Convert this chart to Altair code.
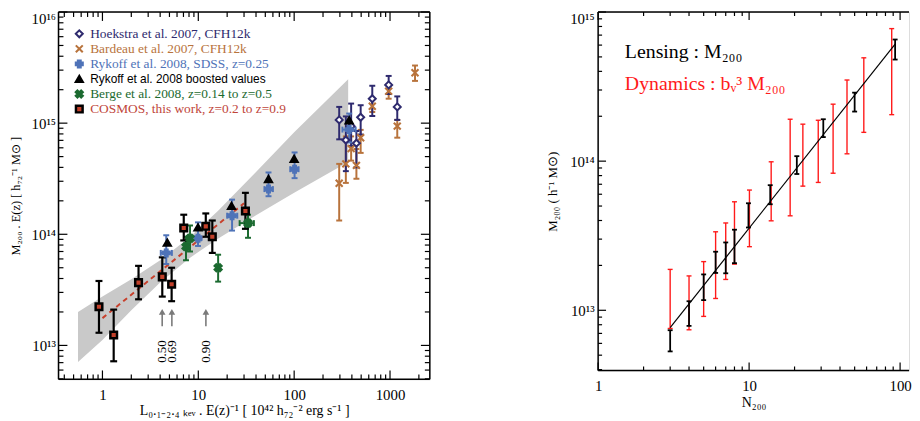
import altair as alt
import pandas as pd

SERIF = "Liberation Serif"
SANS = "Liberation Sans"

# ---------------- left panel values ----------------
series_names = [
    "Hoekstra et al. 2007, CFH12k",
    "Bardeau et al. 2007, CFH12k",
    "Rykoff et al. 2008, SDSS, z=0.25",
    "Rykoff et al. 2008 boosted values",
    "Berge et al. 2008, z=0.14 to z=0.5",
    "COSMOS, this work, z=0.2 to z=0.9",
]
series_colors = ["#2e2a6e", "#b8733c", "#4f73b8", "#000000", "#1b6a30", "#c2402a"]
label_colors = ["#2e2a6e", "#b8733c", "#4f73b8", "#000000", "#1b6a30", "#c0453a"]

cos_L = [0.92, 1.31, 2.38, 4.21, 5.27, 7.05, 11.97, 14.0, 31.0]
cos_M = [2.23e13, 1.24e13, 3.67e13, 4.14e13, 3.55e13, 1.14e14, 1.18e14, 9.5e13, 1.62e14]
cos_lo = [1.3e13, 7.2e12, 2.6e13, 2.75e13, 2.5e13, 8.8e13, 9.5e13, 6.8e13, 1.12e14]
cos_hi = [3.8e13, 2.1e13, 5.2e13, 6.2e13, 5.0e13, 1.5e14, 1.54e14, 1.33e14, 2.36e14]

sdss_L = [4.63, 9.93, 22.5, 54.0, 101.0, 375.0]
sdss_M = [6.8e13, 9.2e13, 1.47e14, 2.55e14, 3.85e14, 8.75e14]
sdss_lo = [5.4e13, 7.85e13, 1.08e14, 2.2e14, 3.2e14, 6.7e14]
sdss_hi = [9.8e13, 1.28e14, 2.05e14, 3.6e14, 5.45e14, 1.22e15]
sdss_Llo = [4.06, 9.2, 20.0, 49.0, 91.0, 319.0]
sdss_Lhi = [5.3, 10.7, 25.5, 60.0, 111.0, 438.0]

boost_L = [4.75, 9.93, 22.2, 54.0, 100.0, 375.0]
boost_M = [8.4e13, 1.15e14, 1.8e14, 3.14e14, 4.77e14, 1.06e15]

hoek_L = [295.0, 346.0, 393.0, 446.0, 494.0, 653.0, 968.0, 1190.0]
hoek_M = [1.07e15, 7.05e14, 9.4e14, 6.6e14, 1.13e15, 1.66e15, 2.21e15, 1.4e15]
hoek_lo = [7.15e14, 3.7e14, 6.25e14, 4.0e14, 7.9e14, 1.16e15, 1.83e15, 1.07e15]
hoek_hi = [1.4e15, 1.15e15, 1.5e15, 8.5e14, 1.45e15, 2.17e15, 2.66e15, 1.74e15]

bard_L = [295.0, 346.0, 393.0, 446.0, 494.0, 653.0, 968.0, 1190.0, 1823.0]
bard_M = [2.88e14, 4.3e14, 5.9e14, 4.17e14, 7.4e14, 1.42e15, 1.94e15, 9.4e14, 2.84e15]
bard_lo = [1.33e14, 2.9e14, 4.6e14, 3.16e14, 5.4e14, 1.26e15, 1.66e15, 7.4e14, 2.4e15]
bard_hi = [4.3e14, 7.6e14, 7.6e14, 5.85e14, 8.7e14, 1.66e15, 2.24e15, 1.07e15, 3.3e15]

berge_L = [7.44, 8.2, 16.1, 33.0]
berge_M = [7.75e13, 9.2e13, 5.0e13, 1.26e14]
berge_lo = [5.85e13, 7.0e13, 3.75e13, 9.3e13]
berge_hi = [9.5e13, 1.2e14, 6.55e13, 1.5e14]
berge_xM = [1.26e14]
berge_Llo = [27.0]
berge_Lhi = [38.0]

fit_L = [1.0, 30.0]
fit_M = [1.76e13, 1.9e14]

band_L = [0.556, 1.0, 2.0, 4.0, 8.0, 16.0, 40.0, 100.0, 366.0]
band_hi = [2.0e13, 2.75e13, 3.94e13, 5.83e13, 9.3e13, 1.62e14, 3.63e14, 8.3e14, 2.48e15]
band_lo = [7.1e12, 1.12e13, 2.07e13, 3.68e13, 6.07e13, 9.1e13, 1.48e14, 2.37e14, 4.47e14]

arrow_L = [4.2, 5.3, 12.0]
arrow_tail = [1.49e13, 1.49e13, 1.49e13]
arrow_head = [2.0e13, 2.0e13, 2.0e13]
arrow_text_M = [8.8e12, 8.8e12, 8.8e12]
arrow_labels = ["0.50", "0.69", "0.90"]

left_x_major = [1, 10, 100, 1000]
left_x_major_lbl = ["1", "10", "100", "1000"]
left_y_major = [10**13, 10**14, 10**15, 10**16]
left_y_major_lbl = ["10¹³", "10¹⁴", "10¹⁵", "10¹⁶"]
left_x_minor = [m / 10 for m in range(4, 10)] + [m * 10**e for e in range(0, 3) for m in range(2, 10)] + [2000]
left_y_minor = [m * 10**12 for m in range(5, 10)] + [m * 10**e for e in range(13, 16) for m in range(2, 10)]

left_x_title = "L₀.₁₋₂.₄ ₖₑᵥ . E(z)⁻¹   [ 10⁴² h₇₂⁻² erg s⁻¹ ]"
left_y_title = "M₂₀₀ . E(z)  [ h₇₂⁻¹ M⊙ ]"

# ---------------- right panel values ----------------
lens_N = [3, 4, 5, 6, 7, 8, 9.9, 13.8, 20.7, 31, 50, 92.7]
lens_lo = [5.3e12, 7.86e12, 1.17e13, 1.78e13, 1.77e13, 2.07e13, 3.59e13, 5.14e13, 8.2e13, 1.45e14, 2.15e14, 4.8e14]
lens_hi = [7.35e12, 1.15e13, 1.74e13, 2.47e13, 2.85e13, 3.47e13, 5.22e13, 6.9e13, 1.08e14, 1.91e14, 2.88e14, 6.54e14]

dyn_N = [3, 4, 5, 6, 7, 8, 10.05, 14.0, 18.7, 22.7, 28.7, 36, 44.5, 57.5, 88]
dyn_lo = [7.55e12, 7.4e12, 9.1e12, 1.2e13, 1.61e13, 2.04e13, 2.67e13, 3.98e13, 4.3e13, 6.8e13, 7.2e13, 8.3e13, 1.12e14, 1.56e14, 2.05e14]
dyn_hi = [1.88e13, 1.7e13, 2.12e13, 3.36e13, 3.85e13, 5.34e13, 6.4e13, 9.9e13, 1.91e14, 1.77e14, 1.88e14, 2.41e14, 3.5e14, 4.93e14, 7.74e14]

nfit_N = [3.0, 92.7]
nfit_M = [7.64e12, 6.1e14]

right_x_major = [1, 10, 100]
right_x_major_lbl = ["1", "10", "100"]
right_y_major = [10**13, 10**14, 10**15]
right_y_major_lbl = ["10¹³", "10¹⁴", "10¹⁵"]
right_x_minor = [m * 10**e for e in range(0, 2) for m in range(2, 10)]
right_y_minor = [m * 10**12 for m in range(4, 10)] + [m * 10**e for e in range(13, 15) for m in range(2, 10)]

annot_text = ["Lensing  :  M₂₀₀", "Dynamics : bᵥ³ M₂₀₀"]
annot_color = ["#000000", "#ff1a1a"]
right_x_title = "N₂₀₀"
right_y_title = "M₂₀₀ ( h⁻¹ M⊙)"

# ---------------- sizes ----------------
LW, LH = 375, 371
RW, RH = 314, 362

xs_l = alt.Scale(type="log", domain=[0.348, 2600], nice=False)
ys_l = alt.Scale(type="log", domain=[4.95e12, 1e16], nice=False)
xs_r = alt.Scale(type="log", domain=[1, 114.6], nice=False)
ys_r = alt.Scale(type="log", domain=[3.95e12, 1e15], nice=False)

ONE = pd.DataFrame({"k": [0]})


def label_expr(vals, lbls):
    parts = [f"datum.value == {v} ? '{l}'" for v, l in zip(vals, lbls)]
    return " : ".join(parts) + " : ''"


def label_axis(orient, vals, lbls, title, lpad, tpad, tsize=14, flush=False):
    return alt.Axis(orient=orient, values=vals, labelExpr=label_expr(vals, lbls), ticks=False,
                    domain=False, grid=False,
                    labelFont=SERIF, labelFontSize=15, labelColor="black", labelPadding=lpad,
                    labelOverlap=False, labelFlush=flush,
                    title=title, titleFont=SERIF, titleFontSize=tsize, titleFontWeight="normal",
                    titleColor="black", titlePadding=tpad)


def edge_ticks(vals, xs, ys, W, H, length, sides):
    """Inward ticks drawn as rules at the plot edges."""
    df = pd.DataFrame({"v": vals})
    out = []
    for side in sides:
        b = alt.Chart(df).mark_rule(color="black", strokeWidth=1.2)
        if side == "left":
            out.append(b.encode(y=alt.Y("v:Q", scale=ys, axis=None), x=alt.value(0), x2=alt.value(length)))
        elif side == "right":
            out.append(b.encode(y=alt.Y("v:Q", scale=ys, axis=None), x=alt.value(W - length), x2=alt.value(W)))
        elif side == "bottom":
            out.append(b.encode(x=alt.X("v:Q", scale=xs, axis=None), y=alt.value(H - length), y2=alt.value(H)))
        elif side == "top":
            out.append(b.encode(x=alt.X("v:Q", scale=xs, axis=None), y=alt.value(0), y2=alt.value(length)))
    return out


def frame(W, H, sides):
    out = []
    for side in sides:
        b = alt.Chart(ONE).mark_rule(color="black", strokeWidth=1.5)
        if side == "left":
            out.append(b.encode(x=alt.value(0), y=alt.value(0), y2=alt.value(H)))
        elif side == "right":
            out.append(b.encode(x=alt.value(W), y=alt.value(0), y2=alt.value(H)))
        elif side == "top":
            out.append(b.encode(y=alt.value(0), x=alt.value(0), x2=alt.value(W)))
        elif side == "bottom":
            out.append(b.encode(y=alt.value(H), x=alt.value(0), x2=alt.value(W)))
    return out


def vbars(df, x, lo, hi, xs, ys, color, sw, cap):
    b = alt.Chart(df)
    X = alt.X(f"{x}:Q", scale=xs, axis=None)
    out = [b.mark_rule(color=color, strokeWidth=sw).encode(
        x=X, y=alt.Y(f"{lo}:Q", scale=ys, axis=None), y2=f"{hi}:Q")]
    for c in (lo, hi):
        out.append(b.mark_tick(orient="horizontal", color=color, size=cap, thickness=sw, opacity=1).encode(
            x=X, y=alt.Y(f"{c}:Q", scale=ys, axis=None)))
    return out


def hbars(df, y, lo, hi, xs, ys, color, sw, cap):
    b = alt.Chart(df)
    Y = alt.Y(f"{y}:Q", scale=ys, axis=None)
    out = [b.mark_rule(color=color, strokeWidth=sw).encode(
        y=Y, x=alt.X(f"{lo}:Q", scale=xs, axis=None), x2=f"{hi}:Q")]
    for c in (lo, hi):
        out.append(b.mark_tick(orient="vertical", color=color, size=cap, thickness=sw, opacity=1).encode(
            y=Y, x=alt.X(f"{c}:Q", scale=xs, axis=None)))
    return out


# ---------------- left panel ----------------
band_df = pd.DataFrame({"L": band_L, "hi": band_hi, "lo": band_lo})
fit_df = pd.DataFrame({"L": fit_L, "M": fit_M})
arrow_df = pd.DataFrame({"L": arrow_L, "t": arrow_tail, "h": arrow_head, "tm": arrow_text_M, "lbl": arrow_labels})

band = alt.Chart(band_df).mark_area(color="#c9c9c9", opacity=1).encode(
    x=alt.X("L:Q", scale=xs_l, axis=None), y=alt.Y("hi:Q", scale=ys_l, axis=None), y2="lo:Q")
fitline = alt.Chart(fit_df).mark_line(color="#c8402c", strokeWidth=2, strokeDash=[5, 4]).encode(
    x=alt.X("L:Q", scale=xs_l, axis=None), y=alt.Y("M:Q", scale=ys_l, axis=None))
arrow_shaft = alt.Chart(arrow_df).mark_rule(color="#7a7a7a", strokeWidth=1.6).encode(
    x=alt.X("L:Q", scale=xs_l, axis=None), y=alt.Y("t:Q", scale=ys_l, axis=None), y2="h:Q")
arrow_tip = alt.Chart(arrow_df).mark_point(shape="triangle-up", filled=True, color="#7a7a7a", size=45, opacity=1).encode(
    x=alt.X("L:Q", scale=xs_l, axis=None), y=alt.Y("h:Q", scale=ys_l, axis=None))
arrow_txt = alt.Chart(arrow_df).mark_text(angle=270, font=SERIF, fontSize=13, color="black",
                                          align="center", baseline="middle").encode(
    x=alt.X("L:Q", scale=xs_l, axis=None), y=alt.Y("tm:Q", scale=ys_l, axis=None), text="lbl:N")

err_layers = []
err_layers += vbars(pd.DataFrame({"L": bard_L, "lo": bard_lo, "hi": bard_hi}), "L", "lo", "hi", xs_l, ys_l, series_colors[1], 2, 6)
err_layers += vbars(pd.DataFrame({"L": hoek_L, "lo": hoek_lo, "hi": hoek_hi}), "L", "lo", "hi", xs_l, ys_l, series_colors[0], 2, 6)
err_layers += vbars(pd.DataFrame({"L": sdss_L, "lo": sdss_lo, "hi": sdss_hi}), "L", "lo", "hi", xs_l, ys_l, series_colors[2], 2, 6)
err_layers += hbars(pd.DataFrame({"M": sdss_M, "lo": sdss_Llo, "hi": sdss_Lhi}), "M", "lo", "hi", xs_l, ys_l, series_colors[2], 2, 6)
err_layers += vbars(pd.DataFrame({"L": berge_L, "lo": berge_lo, "hi": berge_hi}), "L", "lo", "hi", xs_l, ys_l, series_colors[4], 2, 6)
err_layers += hbars(pd.DataFrame({"M": berge_xM, "lo": berge_Llo, "hi": berge_Lhi}), "M", "lo", "hi", xs_l, ys_l, series_colors[4], 2, 6)
err_layers += vbars(pd.DataFrame({"L": cos_L, "lo": cos_lo, "hi": cos_hi}), "L", "lo", "hi", xs_l, ys_l, "black", 2.2, 7)

rows = []
for idx, Ls, Ms in [(1, bard_L, bard_M), (0, hoek_L, hoek_M), (2, sdss_L, sdss_M),
                    (3, boost_L, boost_M), (4, berge_L, berge_M), (5, cos_L, cos_M)]:
    rows += [{"series": series_names[idx], "L": l, "M": m} for l, m in zip(Ls, Ms)]
pts = pd.DataFrame(rows)

X_PATH = "M-1,-1L1,1M1,-1L-1,1"
XF_PATH = "M-1,-0.55L-0.55,-1L0,-0.45L0.55,-1L1,-0.55L0.45,0L1,0.55L0.55,1L0,0.45L-0.55,1L-1,0.55L-0.45,0Z"
shapes = ["diamond", X_PATH, "cross", "triangle-up", XF_PATH, "square"]
fills = ["white", "transparent", series_colors[2], "black", series_colors[4], series_colors[5]]
strokes = [series_colors[0], series_colors[1], series_colors[2], "black", series_colors[4], "black"]
swidths = [2, 2.5, 0.5, 0.5, 0.5, 2.2]
sizes = [50, 45, 50, 50, 55, 100]

sym_enc = dict(
    shape=alt.Shape("series:N", scale=alt.Scale(domain=series_names, range=shapes), legend=None),
    fill=alt.Fill("series:N", scale=alt.Scale(domain=series_names, range=fills), legend=None),
    stroke=alt.Stroke("series:N", scale=alt.Scale(domain=series_names, range=strokes), legend=None),
    strokeWidth=alt.StrokeWidth("series:N", scale=alt.Scale(domain=series_names, range=swidths), legend=None),
    size=alt.Size("series:N", scale=alt.Scale(domain=series_names, range=sizes), legend=None),
)

points = alt.Chart(pts).mark_point(opacity=1).encode(
    x=alt.X("L:Q", scale=xs_l, axis=None),
    y=alt.Y("M:Q", scale=ys_l, axis=None),
    **sym_enc,
)

# hand-built legend: one row per series, rows spread by a linear scale over the row index
leg_df = pd.DataFrame({"series": series_names, "row": list(range(len(series_names)))})
leg_y = alt.Y("row:Q", scale=alt.Scale(domain=[0, len(series_names) - 1], range=[22, 98], nice=False, zero=False),
              axis=None)
leg_sym = alt.Chart(leg_df).mark_point(opacity=1).encode(x=alt.value(21), y=leg_y, **sym_enc)
leg_txt_serif = alt.Chart(leg_df).transform_filter(
    alt.datum.series != series_names[3]).mark_text(align="left", baseline="middle", font=SERIF, fontSize=13.5).encode(
    x=alt.value(32), y=leg_y, text="series:N",
    color=alt.Color("series:N", scale=alt.Scale(domain=series_names, range=label_colors), legend=None))
leg_txt_sans = alt.Chart(leg_df).transform_filter(
    alt.datum.series == series_names[3]).mark_text(align="left", baseline="middle", font=SANS, fontSize=12,
                                                    color="black").encode(
    x=alt.value(32), y=leg_y, text="series:N")

lab_l = alt.Chart(fit_df).mark_point(opacity=0).encode(
    x=alt.X("L:Q", scale=xs_l, axis=label_axis("bottom", left_x_major, left_x_major_lbl, left_x_title, 8, 2)),
    y=alt.Y("M:Q", scale=ys_l, axis=label_axis("left", left_y_major, left_y_major_lbl, left_y_title, 3, 9,
                                                   tsize=12.5, flush=True)))

ticks_l = []
ticks_l += edge_ticks(left_x_major, xs_l, ys_l, LW, LH, 9, ["top", "bottom"])
ticks_l += edge_ticks(left_x_minor, xs_l, ys_l, LW, LH, 5, ["top", "bottom"])
ticks_l += edge_ticks(left_y_major, xs_l, ys_l, LW, LH, 9, ["left", "right"])
ticks_l += edge_ticks(left_y_minor, xs_l, ys_l, LW, LH, 5, ["left", "right"])

left = alt.layer(lab_l, band, fitline, arrow_shaft, arrow_tip, arrow_txt,
                 *err_layers, points, leg_sym, leg_txt_serif, leg_txt_sans,
                 *ticks_l, *frame(LW, LH, ["left", "right", "top", "bottom"])).resolve_scale(
    y="independent").resolve_axis(x="independent", y="independent").properties(width=LW, height=LH)

# ---------------- right panel ----------------
lens_df = pd.DataFrame({"N": lens_N, "lo": lens_lo, "hi": lens_hi})
dyn_df = pd.DataFrame({"N": dyn_N, "lo": dyn_lo, "hi": dyn_hi})
nfit_df = pd.DataFrame({"N": nfit_N, "M": nfit_M})

r_layers = []
r_layers += vbars(dyn_df, "N", "lo", "hi", xs_r, ys_r, "#ff1a1a", 1.4, 5)
r_layers += vbars(lens_df, "N", "lo", "hi", xs_r, ys_r, "black", 1.8, 5)
nline = alt.Chart(nfit_df).mark_line(color="black", strokeWidth=1.2).encode(
    x=alt.X("N:Q", scale=xs_r, axis=None), y=alt.Y("M:Q", scale=ys_r, axis=None))
annot_df = pd.DataFrame({"t": annot_text})
ann1 = alt.Chart(annot_df.iloc[[0]]).mark_text(align="left", baseline="alphabetic", font=SERIF, fontSize=20,
                                               color=annot_color[0]).encode(
    x=alt.value(27), y=alt.value(46), text="t:N")
ann2 = alt.Chart(annot_df.iloc[[1]]).mark_text(align="left", baseline="alphabetic", font=SERIF, fontSize=20,
                                               color=annot_color[1]).encode(
    x=alt.value(27), y=alt.value(79), text="t:N")

lab_r = alt.Chart(nfit_df).mark_point(opacity=0).encode(
    x=alt.X("N:Q", scale=xs_r, axis=label_axis("bottom", right_x_major, right_x_major_lbl, right_x_title, 8, 2)),
    y=alt.Y("M:Q", scale=ys_r, axis=label_axis("left", right_y_major, right_y_major_lbl, right_y_title, 4, 10,
                                                   tsize=13, flush=True)))

ticks_r = []
ticks_r += edge_ticks(right_x_major, xs_r, ys_r, RW, RH, 8, ["top", "bottom"])
ticks_r += edge_ticks(right_x_minor, xs_r, ys_r, RW, RH, 4, ["top", "bottom"])
ticks_r += edge_ticks(right_y_major, xs_r, ys_r, RW, RH, 8, ["left"])
ticks_r += edge_ticks(right_y_minor, xs_r, ys_r, RW, RH, 4, ["left"])

right = alt.layer(lab_r, *r_layers, nline, ann1, ann2, *ticks_r,
                  *frame(RW, RH, ["left", "top", "bottom"])).resolve_axis(
    x="independent", y="independent").properties(width=RW, height=RH)

chart = alt.hconcat(left, right, spacing=115).properties(
    padding={"left": 0, "top": 0, "right": 0, "bottom": 0}
).configure_view(stroke=None).configure(font=SERIF)

chart.save("out.html", embed_options={"renderer": "svg", "actions": False})
